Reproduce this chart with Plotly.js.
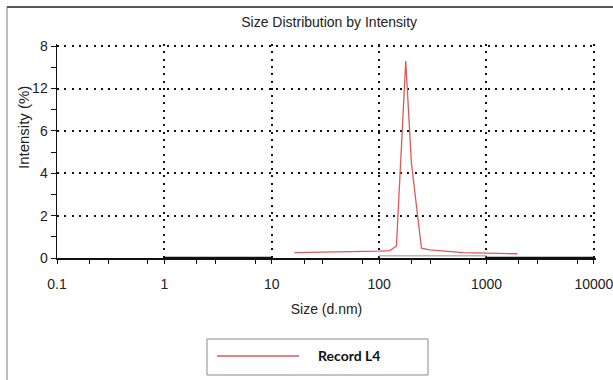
<!DOCTYPE html>
<html>
<head>
<meta charset="utf-8">
<script src="https://cdn.plot.ly/plotly-3.0.1.min.js"></script>
<style>
  html, body { margin: 0; padding: 0; background: #ffffff; }
  #chart { width: 613px; height: 380px; }
</style>
</head>
<body>
<div id="chart"></div>
<script>
// ---- data ----
const sizeNm      = [16.3, 30, 60, 100, 126, 145, 177, 200, 248, 296, 606, 1000, 1940];
const intensity   = [0.25, 0.27, 0.29, 0.32, 0.35, 0.57, 9.3, 4.47, 0.46, 0.38, 0.25, 0.22, 0.2];
const seriesName  = "Record L4";

const baseSize    = [1, 10, null, 1000, 10000];
const baseValue   = [0, 0, null, 0, 0];
const greySize    = [100, 1000];
const greyValue   = [0.11, 0.11];

const xTickVals   = [0.1, 1, 10, 100, 1000, 10000];
const xTickText   = ["0.1", "1", "10", "100", "1000", "10000"];
const xMinorVals  = [0.2, 0.3, 0.7, 2, 3, 7, 20, 30, 70, 200, 300, 700, 2000, 3000, 7000];
const yTickVals   = [0, 2, 4, 6, 8, 10];
const yTickText   = ["0", "2", "4", "6", "12", "8"];
const yMinorVals  = [1, 3, 5, 7, 9];

const chartTitle  = "Size Distribution by Intensity";
const xTitle      = "Size (d.nm)";
const yTitle      = "Intensity (%)";

// ---- traces ----
const traces = [
  { x: baseSize, y: baseValue, type: "scatter", mode: "lines",
    line: { color: "#111111", width: 2.5 }, showlegend: false, hoverinfo: "skip", connectgaps: false },
  { x: greySize, y: greyValue, type: "scatter", mode: "lines",
    line: { color: "#b8b8b8", width: 1.5 }, showlegend: false, hoverinfo: "skip" },
  { x: sizeNm, y: intensity, type: "scatter", mode: "lines", name: seriesName,
    line: { color: "#e25858", width: 1.3 }, showlegend: false }
];

const axisFont = { family: "Liberation Sans, Arial, sans-serif", size: 14, color: "#222222" };
const gridDash = "2px,5.3px";

const layout = {
  width: 613, height: 380,
  margin: { l: 57, r: 17, t: 44, b: 122 },
  paper_bgcolor: "#ffffff", plot_bgcolor: "#ffffff",
  showlegend: false,
  title: { text: chartTitle, font: { family: "Liberation Sans, Arial, sans-serif", size: 14, color: "#222222" },
           xref: "container", x: 0.537, xanchor: "center", yref: "container", y: 0.943, yanchor: "middle" },
  xaxis: {
    type: "log", range: [-1, 4.02],
    tickmode: "array", tickvals: xTickVals, ticktext: xTickText,
    ticks: "outside", ticklen: 4, tickcolor: "#111", tickwidth: 1,
    ticklabelstandoff: 9, ticklabeloverflow: "allow",
    showline: true, linecolor: "#111111", linewidth: 1.5,
    showgrid: true, gridcolor: "#111111", gridwidth: 2, griddash: gridDash,
    zeroline: false, tickfont: axisFont,
    minor: { tickmode: "array", tickvals: xMinorVals, ticks: "outside", ticklen: 4, tickcolor: "#111", showgrid: false },
    title: { text: xTitle, font: axisFont, standoff: 13 }
  },
  yaxis: {
    range: [0, 10.1],
    tickmode: "array", tickvals: yTickVals, ticktext: yTickText,
    ticks: "outside", ticklen: 5, tickcolor: "#111", tickwidth: 1,
    showline: true, linecolor: "#111111", linewidth: 1.5,
    showgrid: true, gridcolor: "#111111", gridwidth: 2, griddash: gridDash,
    zeroline: false, tickfont: axisFont,
    minor: { tickmode: "array", tickvals: yMinorVals, ticks: "outside", ticklen: 5, tickcolor: "#111", showgrid: false }
  },
  annotations: [
    { text: yTitle, textangle: -90, xref: "paper", yref: "paper", x: -0.0631, y: 0.612,
      xanchor: "center", yanchor: "middle", showarrow: false,
      font: { family: "Liberation Sans, Arial, sans-serif", size: 15, color: "#222222" } },
    { text: "<b>" + seriesName + "</b>", xref: "paper", yref: "paper", x: 0.4805, y: -0.4579,
      xanchor: "left", yanchor: "middle", showarrow: false,
      font: { family: "Lato, Open Sans, sans-serif", size: 14, color: "#111111" } }
  ],
  shapes: [
    // outer frame (top and left)
    { type: "line", xref: "paper", yref: "paper", x0: -0.0928, x1: 1.04, y0: 1.1729, y1: 1.1729,
      line: { color: "#555555", width: 2 } },
    { type: "line", xref: "paper", yref: "paper", x0: -0.0928, x1: -0.0928, y0: 1.1729, y1: -0.6,
      line: { color: "#777777", width: 1 } },
    // legend box
    { type: "rect", xref: "paper", yref: "paper", x0: 0.2783, x1: 0.6883, y0: -0.5467, y1: -0.3785,
      line: { color: "#8a8a8a", width: 1 }, fillcolor: "rgba(0,0,0,0)" },
    { type: "line", xref: "paper", yref: "paper", x0: 0.2968, x1: 0.4490, y0: -0.4579, y1: -0.4579,
      line: { color: "#e25858", width: 1.3 } }
  ]
};

Plotly.newPlot("chart", traces, layout, { staticPlot: true, displayModeBar: false });
</script>
</body>
</html>
